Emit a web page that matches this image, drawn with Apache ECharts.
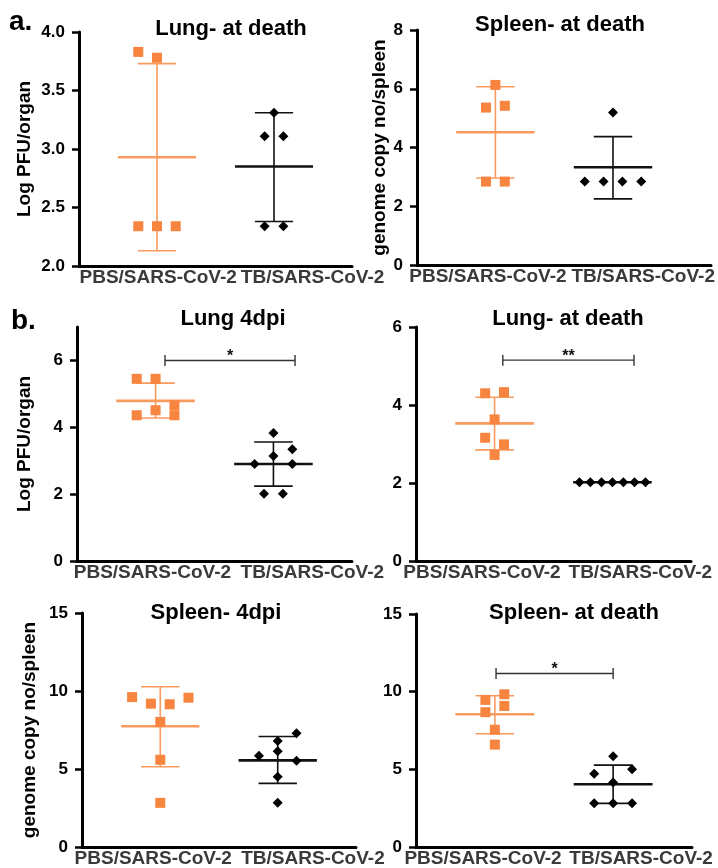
<!DOCTYPE html>
<html><head><meta charset="utf-8">
<script src="https://cdn.jsdelivr.net/npm/echarts@6/dist/echarts.min.js"></script>
<style>html,body{margin:0;padding:0;background:#fff}#c{width:718px;height:868px}</style>
</head><body><div id="c"></div>
<script>
// ---------- data ----------
const groups = ['PBS/SARS-CoV-2', 'TB/SARS-CoV-2'];
const titles = ['Lung- at death', 'Spleen- at death', 'Lung 4dpi', 'Lung- at death', 'Spleen- 4dpi', 'Spleen- at death'];
const yNames = ['Log PFU/organ', 'genome copy no/spleen', 'Log PFU/organ', '', 'genome copy no/spleen', ''];
const yTicks = [[2, 2.5, 3, 3.5, 4], [0, 2, 4, 6, 8], [0, 2, 4, 6], [0, 2, 4, 6], [0, 5, 10, 15], [0, 5, 10, 15]];
const yMin = [2, 0, 0, 0, 0, 0];
const yMax = [4, 8, 7, 6, 15, 15];

const a1Pbs = [3.83, 3.78, 2.34, 2.34, 2.34];
const a1Tb  = [3.31, 3.11, 3.11, 2.34, 2.34];
const a2Pbs = [6.13, 5.36, 5.42, 2.84, 2.84];
const a2Tb  = [5.19, 2.84, 2.84, 2.84, 2.84];
const b1Pbs = [5.45, 5.45, 4.66, 4.51, 4.36, 4.36];
const b1Tb  = [3.83, 3.34, 3.14, 2.90, 2.90, 2.01, 2.01];
const b2Pbs = [4.30, 4.33, 3.63, 3.16, 2.99, 2.72];
const b2Tb  = [2.02, 2.02, 2.02, 2.02, 2.02, 2.02, 2.02];
const c1Pbs = [9.61, 9.57, 9.19, 9.15, 8.02, 5.59, 2.83];
const c1Tb  = [7.29, 6.80, 6.13, 5.85, 5.53, 4.51, 2.83];
const c2Pbs = [9.83, 9.47, 9.08, 8.68, 7.55, 6.59];
const c2Tb  = [5.85, 5.00, 4.72, 4.15, 2.81, 2.81, 2.81];

// mean and SD bar ends as drawn
const pbsMean  = [2.93, 4.52, 4.79, 3.53, 7.74, 8.55];
const pbsUpper = [3.73, 6.07, 5.32, 4.20, 10.27, 9.74];
const pbsLower = [2.13, 2.96, 4.28, 2.85, 5.14, 7.29];
const tbMean   = [2.85, 3.33, 2.90, 2.02, 5.55, 4.04];
const tbUpper  = [3.31, 4.37, 3.56, 2.02, 7.08, 5.27];
const tbLower  = [2.38, 2.25, 2.24, 2.02, 4.08, 2.81];

const sigLabels = ['', '', '*', '**', '', '*'];
const sigLevel  = [null, null, 6.0, 5.15, null, 11.17];

const pbsValues = [a1Pbs, a2Pbs, b1Pbs, b2Pbs, c1Pbs, c2Pbs];
const tbValues  = [a1Tb, a2Tb, b1Tb, b2Tb, c1Tb, c2Tb];

// ---------- layout ----------
const layout = [
  {left: 79,  top: 32,  width: 273, height: 234, xMax: 7,   titleX: 231, titleY: 18,  nameGap: 45, labelAt: [2.03, 5.99],
   pbsJit: [-1, 0, -1, 0, 1], tbJit: [0, -0.5, 0.5, -0.5, 0.5]},
  {left: 417, top: 30,  width: 294, height: 235, xMax: 7.5, titleX: 560, titleY: 14,  nameGap: 27, labelAt: [1.81, 5.77],
   pbsJit: [0, -0.5, 0.5, -0.5, 0.5], tbJit: [0, -1.5, -0.5, 0.5, 1.5]},
  {left: 77,  top: 327, width: 275, height: 234, xMax: 7,   titleX: 233, titleY: 308, nameGap: 43, labelAt: [1.92, 5.99],
   pbsJit: [-1, 0, 1, 0, -1, 1], tbJit: [0, 1, 0, -1, 1, -0.5, 0.5], sigX: [2.24, 5.55]},
  {left: 416, top: 327, width: 275, height: 234, xMax: 7,   titleX: 568, titleY: 308, nameGap: 40, labelAt: [1.68, 5.71],
   pbsJit: [-0.5, 0.5, 0, -0.5, 0.5, 0], tbJit: [-1.75, -1.17, -0.58, 0, 0.58, 1.17, 1.75], sigX: [2.21, 5.55]},
  {left: 82,  top: 613, width: 274, height: 235, xMax: 7,   titleX: 216, titleY: 602, nameGap: 43, labelAt: [1.82, 5.9],
   pbsJit: [-1.5, 1.5, -0.5, 0.5, 0, 0, 0], tbJit: [1, 0, 0, -1, 1, 0, 0]},
  {left: 416, top: 614, width: 276, height: 234, xMax: 7,   titleX: 574, titleY: 602, nameGap: 40, labelAt: [1.70, 5.71],
   pbsJit: [0.5, -0.5, 0.5, -0.5, 0, 0], tbJit: [0, 1, -1, 0, -1, 0, 1], sigX: [2.03, 5.0]}
];
const CENTERS = [2, 5];
const JIT = 0.48, MEAN_HALF = 1.0, CAP_HALF = 0.49;
const ORANGE = '#F7843F', ORANGE_LINE = '#F99A5E';
const FONT = '"Liberation Sans", Arial, Helvetica, sans-serif';

function errRender(params, api) {
  const x = api.value(0), m = api.value(1), hi = api.value(2), lo = api.value(3);
  const c = api.coord([x, m]), ph = api.coord([x, hi]), pl = api.coord([x, lo]);
  const unit = api.size([1, 0])[0];
  const col = api.visual('color');
  const thin = {stroke: col, lineWidth: 1.6};
  const ch = [];
  if (Math.abs(ph[1] - pl[1]) > 0.5) {
    ch.push({type: 'line', shape: {x1: c[0], y1: ph[1], x2: c[0], y2: pl[1]}, style: thin});
    ch.push({type: 'line', shape: {x1: c[0] - unit * CAP_HALF, y1: ph[1], x2: c[0] + unit * CAP_HALF, y2: ph[1]}, style: thin});
    ch.push({type: 'line', shape: {x1: c[0] - unit * CAP_HALF, y1: pl[1], x2: c[0] + unit * CAP_HALF, y2: pl[1]}, style: thin});
  }
  ch.push({type: 'line', shape: {x1: c[0] - unit * MEAN_HALF, y1: c[1], x2: c[0] + unit * MEAN_HALF, y2: c[1]},
           style: {stroke: col, lineWidth: 2.6}});
  return {type: 'group', children: ch};
}

function sigRender(params, api) {
  const p1 = api.coord([api.value(0), api.value(2)]);
  const p2 = api.coord([api.value(1), api.value(2)]);
  const st = {stroke: '#333', lineWidth: 1.4};
  return {type: 'group', children: [
    {type: 'line', shape: {x1: p1[0], y1: p1[1], x2: p2[0], y2: p2[1]}, style: st},
    {type: 'line', shape: {x1: p1[0], y1: p1[1] - 5.5, x2: p1[0], y2: p1[1] + 5.5}, style: st},
    {type: 'line', shape: {x1: p2[0], y1: p2[1] - 5.5, x2: p2[0], y2: p2[1] + 5.5}, style: st},
    {type: 'text', x: (p1[0] + p2[0]) / 2, y: p1[1] - 3.5,
     style: {text: api.value(3) === 2 ? '**' : '*', fill: '#111', font: 'bold 16px ' + FONT,
             align: 'center', verticalAlign: 'middle', textAlign: 'center', textVerticalAlign: 'middle'}}
  ]};
}

const grid = [], xAxis = [], yAxis = [], series = [], graphic = [];
layout.forEach((L, i) => {
  grid.push({left: L.left, top: L.top, width: L.width, height: L.height, containLabel: false});
  xAxis.push({
    type: 'value', gridIndex: i, min: 0, max: L.xMax,
    axisLine: {show: true, onZero: false, lineStyle: {color: '#000', width: 3}},
    axisTick: {show: false}, splitLine: {show: false},
    axisLabel: {customValues: L.labelAt, margin: 2, color: '#3a3a3a', fontWeight: 'bold', fontSize: 19, fontFamily: FONT,
                formatter: v => (v < L.xMax / 2 ? groups[0] : groups[1])}
  });
  yAxis.push({
    type: 'value', gridIndex: i, min: yMin[i], max: yMax[i],
    name: yNames[i], nameLocation: 'middle', nameRotate: 90, nameGap: L.nameGap,
    nameTextStyle: {color: '#000', fontWeight: 'bold', fontSize: 19, fontFamily: FONT},
    axisLine: {show: true, onZero: false, lineStyle: {color: '#000', width: 3}},
    axisTick: {show: true, customValues: yTicks[i], length: 7, lineStyle: {color: '#000', width: 2.5}},
    splitLine: {show: false},
    axisLabel: {customValues: yTicks[i], margin: 14, color: '#000', fontWeight: 'bold', fontSize: 17, fontFamily: FONT,
                formatter: v => (i === 0 ? v.toFixed(1) : String(v))}
  });
  series.push({
    type: 'custom', xAxisIndex: i, yAxisIndex: i, z: 2, itemStyle: {color: ORANGE_LINE},
    encode: {x: 0, y: [1, 2, 3]}, renderItem: errRender,
    data: [[CENTERS[0], pbsMean[i], pbsUpper[i], pbsLower[i]]]
  });
  series.push({
    type: 'custom', xAxisIndex: i, yAxisIndex: i, z: 2, itemStyle: {color: '#111'},
    encode: {x: 0, y: [1, 2, 3]}, renderItem: errRender,
    data: [[CENTERS[1], tbMean[i], tbUpper[i], tbLower[i]]]
  });
  series.push({
    type: 'scatter', xAxisIndex: i, yAxisIndex: i, z: 5, symbol: 'rect', symbolSize: 10,
    itemStyle: {color: ORANGE, opacity: 1},
    data: pbsValues[i].map((v, k) => [CENTERS[0] + L.pbsJit[k] * JIT, v])
  });
  series.push({
    type: 'scatter', xAxisIndex: i, yAxisIndex: i, z: 5, symbol: 'diamond', symbolSize: 10,
    itemStyle: {color: '#000', opacity: 1},
    data: tbValues[i].map((v, k) => [CENTERS[1] + L.tbJit[k] * JIT, v])
  });
  if (sigLevel[i] !== null) {
    series.push({
      type: 'custom', xAxisIndex: i, yAxisIndex: i, z: 4,
      encode: {x: [0, 1], y: 2}, renderItem: sigRender,
      data: [[L.sigX[0], L.sigX[1], sigLevel[i], sigLabels[i].length]]
    });
  }
  graphic.push({type: 'text', x: L.titleX, y: L.titleY,
    style: {text: titles[i], fill: '#000', font: 'bold 22px ' + FONT, align: 'center', verticalAlign: 'top',
            textAlign: 'center', textVerticalAlign: 'top'}});
});
graphic.push({type: 'text', x: 9, y: 8, style: {text: 'a.', fill: '#000', font: 'bold 28px ' + FONT, verticalAlign: 'top', textVerticalAlign: 'top'}});
graphic.push({type: 'text', x: 11, y: 307, style: {text: 'b.', fill: '#000', font: 'bold 28px ' + FONT, verticalAlign: 'top', textVerticalAlign: 'top'}});

const chart = echarts.init(document.getElementById('c'), null, {renderer: 'canvas'});
chart.setOption({animation: false, backgroundColor: '#fff', grid, xAxis, yAxis, series, graphic});
</script>
</body></html>
